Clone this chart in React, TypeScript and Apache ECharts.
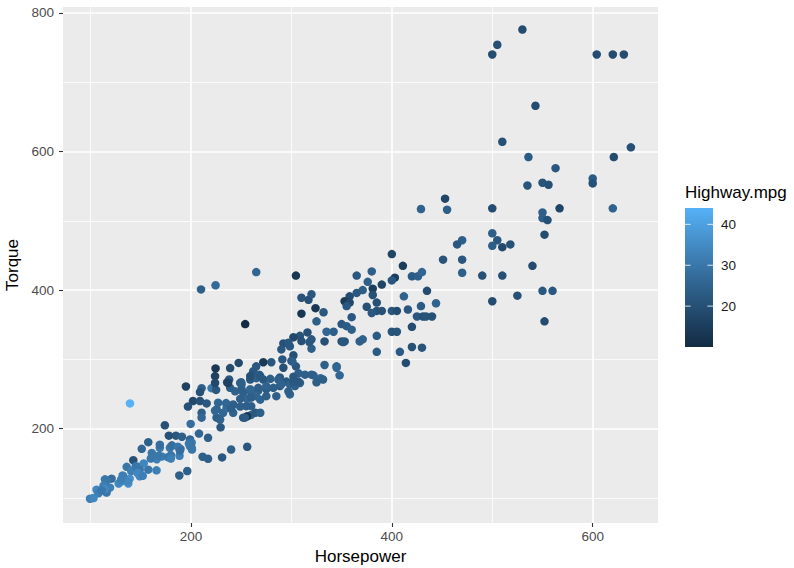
import React, { useEffect, useRef } from "react";
import * as echarts from "echarts";

const horsepower = [
  530, 505, 500, 604, 620, 631, 543, 510, 638, 621, 536, 563, 535, 550, 556, 600, 600, 500, 567, 620,
  550, 550, 555, 552, 500, 505, 500, 510, 518, 470, 470, 470, 490, 510, 540, 550, 560, 525, 500, 552,
  453, 429, 455, 465, 400, 451, 411, 380, 365, 403, 400, 420, 426, 430, 390, 376, 381, 381, 371, 365,
  358, 353, 358, 355, 385, 375, 435, 412, 444, 429, 416, 400, 405, 385, 390, 380, 425, 431, 434, 440,
  360, 350, 355, 360, 342, 420, 400, 405, 385, 371, 368, 350, 353, 420, 430, 385, 408, 414, 345, 265,
  304.5, 210, 224.5, 254, 310, 317, 320, 324, 310, 332, 325, 335, 316, 308.5, 302, 320, 333, 292, 298.5, 320,
  290, 302, 280, 272, 291, 300, 292, 304.5, 333, 345, 247.5, 239, 224.5, 262, 268, 224, 238, 250, 236, 259,
  265, 272, 279, 288.5, 295, 307, 302, 313.5, 322, 329, 331.5, 325, 308.5, 298.5, 288.5, 282, 275, 267, 260, 252,
  244, 239, 220.5, 210.6, 225, 209, 195, 202, 209, 215.6, 197, 210.6, 210.6, 225.5, 225.5, 232, 242, 242, 249, 252,
  260, 260, 264, 269, 256, 229.5, 199.7, 256, 269, 275, 285, 265, 249, 298.5, 139.3, 224, 229, 235.5, 174, 185,
  178, 191, 199, 208, 217, 200.7, 189.6, 179, 169, 157.5, 151, 161, 171, 180, 188.6, 166, 177, 211.6, 217, 231,
  240, 142.6, 136, 147.5, 157.5, 165.7, 149, 139, 132.5, 131, 137.6, 121, 114.4, 128, 188.4, 196.3, 119.4, 116, 106, 108,
  99.5, 103, 200.7, 153, 256, 297, 310, 318, 351.5, 301, 265, 259, 269, 287, 290, 250.4, 250.4, 259, 267, 275,
  297, 303.5, 307, 320, 348, 302, 260, 255, 253.7, 237, 249, 227, 224, 235, 240, 169, 181, 187, 189, 199,
  201, 168, 180, 160, 149, 140.5, 145, 132, 147, 152, 137, 130.6, 116, 113, 114.4, 111, 198
];

const torque = [
  776, 754, 740, 740, 740, 740, 666, 614, 606, 592, 592, 576, 551, 555, 552, 561, 554, 518, 518, 518,
  512, 504, 501, 480, 482, 472, 464, 462, 466, 472, 444, 425, 421, 421, 435, 399, 399, 392, 384, 355,
  532, 517, 516, 466, 452, 444, 435, 427, 421, 418, 414, 420, 420, 426, 408, 412, 402, 393, 400, 396,
  391, 384, 382, 377, 382, 376, 399, 391, 381, 377, 372, 370, 370, 370, 370, 367, 362, 362, 362, 362,
  361, 351, 348, 343, 340, 347, 340, 340, 334, 329, 326, 326, 326, 318, 317, 311, 311, 295, 290, 426,
  421, 401, 407, 351, 389, 386, 394, 374, 366, 368, 355, 340, 339, 334, 332, 329, 326, 323, 319, 315.5,
  314.5, 306, 296, 296, 300, 298, 288, 290, 292, 288, 295, 287.5, 287, 283, 278, 276, 271, 267, 267, 271,
  273, 271, 272, 274, 268, 280, 275, 278, 277, 273, 271, 267, 266, 264, 261.5, 259, 257, 255, 252, 252,
  254, 259, 258.6, 258.6, 256, 253, 261, 240, 240, 236.5, 232, 223, 216, 228, 216, 223, 235, 223, 232, 216,
  232.6, 220, 223, 223, 218, 202, 207, 243, 242, 247, 247, 247, 243, 249.5, 236.5, 266, 213, 230, 205, 190,
  190, 188.5, 184.5, 193, 187, 172.5, 171, 172.5, 172.5, 180.6, 171, 165, 160, 162, 161, 156, 159, 159.6, 156.7, 158.6,
  170, 154.6, 145, 145, 141, 140, 131.5, 128, 131.5, 124, 121, 128, 127, 121, 132.6, 139, 115, 108, 112, 107,
  99, 100, 180, 150, 174, 324, 326.5, 325, 325, 297, 290, 276, 276, 271, 264, 264, 257, 257, 259, 261.5,
  254, 261.5, 268, 278, 277, 268, 245, 232.6, 216, 266, 266, 237.5, 226, 237, 229, 177, 176, 174, 168, 175,
  170, 161, 157, 157, 141, 139, 146, 132.6, 136, 132, 124, 127, 125, 118, 113, 111, 178.7
];

const highwayMpg = [
  19, 20, 19, 19, 19, 19, 19, 20, 20, 19, 23, 22, 21, 21, 20, 23, 20, 19, 17, 25,
  24, 24, 20, 19, 24, 22, 24, 18, 20, 24, 22, 24, 20, 20, 19, 22, 22, 20, 19, 19,
  17, 25, 24, 22, 17, 21, 15, 24, 22, 15, 22, 23, 24, 26, 17, 24, 15, 20, 24, 22,
  19, 14, 18, 22, 20, 20, 19, 25, 25, 23, 22, 22, 19, 20, 20, 22, 22, 20, 21, 20,
  22, 22, 23, 24, 24, 19, 21, 21, 23, 25, 24, 20, 21, 20, 21, 23, 23, 19, 24, 26,
  13, 24, 27, 10, 21, 20, 22, 13, 13, 22, 24, 26, 20, 21, 18, 22, 20, 20, 22, 24,
  22, 20, 22, 14, 22, 22, 20, 22, 24, 26, 18, 19, 13, 22, 24, 16, 22, 24, 20, 22,
  24, 22, 24, 22, 22, 24, 22, 24, 25, 26, 24, 24, 24, 25, 22, 24, 23, 24, 25, 24,
  25, 24, 30, 24, 22, 20, 16, 18, 20, 22, 20, 24, 26, 25, 24, 26, 24, 25, 24, 22,
  24, 26, 22, 24, 13, 22, 28, 26, 25, 24, 24, 26, 24, 25, 44, 18, 25, 27, 20, 22,
  20, 24, 26, 26, 24, 28, 28, 30, 30, 24, 26, 30, 32, 30, 32, 32, 30, 24, 24, 22,
  24, 20, 30, 30, 30, 32, 34, 36, 32, 34, 36, 28, 30, 34, 24, 24, 32, 30, 34, 32,
  32, 34, 30, 34, 22, 22, 20, 22, 22, 24, 22, 20, 22, 24, 25, 26, 24, 26, 24, 25,
  24, 24, 22, 24, 26, 22, 24, 24, 23, 16, 24, 26, 26, 26, 24, 28, 28, 30, 28, 30,
  30, 30, 32, 30, 30, 32, 30, 32, 34, 32, 34, 32, 30, 32, 34, 30, 30
];

const xTicks = [200, 400, 600];
const xMinorTicks = [100, 300, 500];
const yTicks = [200, 400, 600, 800];
const yMinorTicks = [100, 300, 500, 700];
const mpgTicks = [20, 30, 40];
const mpgLimits = [10, 44];
const gradientColors = ["#132B43", "#336A98", "#56B1F7"];

const FONT = "'Liberation Sans', Arial, Helvetica, sans-serif";

export default function App() {
  const ref = useRef<HTMLDivElement>(null);

  useEffect(() => {
    if (!ref.current) return;
    const chart = echarts.init(ref.current, null, { renderer: "svg" });

    const points = horsepower.map((h, i) => [h, torque[i], highwayMpg[i]]);

    const gridLine = (axis: "xAxis" | "yAxis", v: number, w: number) => ({
      [axis]: v,
      lineStyle: { color: "#FFFFFF", width: w, type: "solid" },
    });

    const markData = [
      ...xMinorTicks.map((v) => gridLine("xAxis", v, 0.8)),
      ...yMinorTicks.map((v) => gridLine("yAxis", v, 0.8)),
      ...xTicks.map((v) => gridLine("xAxis", v, 1.6)),
      ...yTicks.map((v) => gridLine("yAxis", v, 1.6)),
    ];

    const barX = 685;
    const barY = 208;
    const barW = 28;
    const barH = 139;
    const valToY = (v: number) =>
      barY + barH - ((v - mpgLimits[0]) / (mpgLimits[1] - mpgLimits[0])) * barH;

    const legendElements: any[] = [
      {
        type: "text",
        x: barX,
        y: 192,
        style: {
          text: "Highway.mpg",
          fill: "#000000",
          font: `17px ${FONT}`,
          verticalAlign: "middle",
          align: "left",
        },
      },
      {
        type: "rect",
        shape: { x: barX, y: barY, width: barW, height: barH },
        style: {
          fill: new echarts.graphic.LinearGradient(0, 0, 0, 1, [
            { offset: 0, color: gradientColors[2] },
            { offset: 0.5, color: gradientColors[1] },
            { offset: 1, color: gradientColors[0] },
          ]),
        },
      },
    ];
    mpgTicks.forEach((t) => {
      const y = valToY(t);
      legendElements.push(
        {
          type: "line",
          shape: { x1: barX, y1: y, x2: barX + barW / 5, y2: y },
          style: { stroke: "rgba(255,255,255,0.8)", lineWidth: 1 },
        },
        {
          type: "line",
          shape: { x1: barX + barW - barW / 5, y1: y, x2: barX + barW, y2: y },
          style: { stroke: "rgba(255,255,255,0.8)", lineWidth: 1 },
        },
        {
          type: "text",
          x: 721,
          y: y,
          style: {
            text: String(t),
            fill: "#1A1A1A",
            font: `13.5px ${FONT}`,
            verticalAlign: "middle",
            align: "left",
          },
        }
      );
    });

    const axisCommon = {
      type: "value" as const,
      axisLine: { show: false },
      splitLine: { show: false },
      nameLocation: "middle" as const,
      nameTextStyle: { color: "#000000", fontSize: 17, fontFamily: FONT },
    };

    chart.setOption({
      animation: false,
      textStyle: { fontFamily: FONT },
      grid: {
        left: 63,
        right: 136,
        top: 7,
        bottom: 45,
        show: true,
        backgroundColor: "#EBEBEB",
        borderWidth: 0,
        containLabel: false,
        outerBoundsMode: "none",
      },
      xAxis: {
        ...axisCommon,
        min: 72.6,
        max: 665,
        name: "Horsepower",
        nameGap: 24,
        axisTick: {
          show: true,
          customValues: xTicks,
          length: 4,
          lineStyle: { color: "#333333", width: 1.1 },
        },
        axisLabel: {
          customValues: xTicks,
          color: "#4D4D4D",
          fontSize: 13.5,
          fontFamily: FONT,
          margin: 6,
        },
      },
      yAxis: {
        ...axisCommon,
        min: 64,
        max: 808.5,
        name: "Torque",
        nameGap: 38,
        axisTick: {
          show: true,
          customValues: yTicks,
          length: 4,
          lineStyle: { color: "#333333", width: 1.1 },
        },
        axisLabel: {
          customValues: yTicks,
          color: "#4D4D4D",
          fontSize: 13.5,
          fontFamily: FONT,
          margin: 9,
        },
      },
      visualMap: {
        show: false,
        type: "continuous",
        seriesIndex: 1,
        dimension: 2,
        min: mpgLimits[0],
        max: mpgLimits[1],
        inRange: { color: gradientColors },
      },
      series: [
        {
          type: "scatter",
          data: [],
          silent: true,
          z: 1,
          markLine: {
            silent: true,
            symbol: ["none", "none"],
            label: { show: false },
            emphasis: { disabled: true },
            animation: false,
            data: markData,
          },
        },
        {
          type: "scatter",
          z: 10,
          symbol: "circle",
          symbolSize: 8.5,
          itemStyle: { opacity: 1, borderWidth: 0 },
          emphasis: { disabled: true },
          data: points,
        },
      ],
      graphic: legendElements,
    });

    return () => chart.dispose();
  }, []);

  return (
    <div
      ref={ref}
      style={{ position: "fixed", left: 0, top: 0, width: 794, height: 568, background: "#FFFFFF" }}
    />
  );
}
